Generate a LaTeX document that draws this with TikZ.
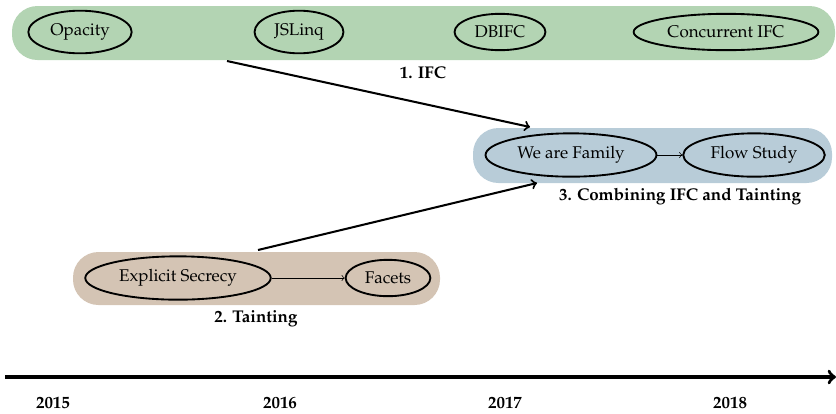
\documentclass[tikz,border=0pt]{standalone}
\usepackage[T1]{fontenc}
\usepackage{mathpazo}
\usepackage{xcolor}
\usetikzlibrary{shapes.geometric}
\definecolor{ifcgreen}{HTML}{B3D4B3}
\definecolor{mixblue}{HTML}{B8CCD8}
\definecolor{taintbrown}{HTML}{D4C4B4}

\tikzset{
	paper/.style={draw, line width=1.1pt, ellipse, inner sep=4pt},
	band/.style={rounded corners=15pt},
	group/.style={font=\bfseries},
	year/.style={font=\bfseries}
}

\begin{document}
\begin{tikzpicture}[x=0.0207cm, y=-0.0207cm]
		\useasboundingbox (0,0) rectangle (836,413);
		% groups
		\fill[ifcgreen, band] (12,6) rectangle (835,60);
		\fill[mixblue, band] (473,128) rectangle (832,183);
		\fill[taintbrown, band] (73,252) rectangle (440,305);
		% IFC
		\node[paper] (opacity) at (80,32) {Opacity};
		\node[paper] (jslinq) at (299,32) {JSLinq};
		\node[paper] (dbifc) at (500,32) {DBIFC};
		\node[paper] (concurrent) at (726,32) {Concurrent IFC};
		\node[group] (ifc) at (423,73) {1. IFC};
		% combining
		\node[paper] (family) at (571,155) {We are Family};
		\node[paper] (flow) at (754,155) {Flow Study};
		\node[group] (combining) at (680,197) {3. Combining IFC and Tainting};
		\draw[->] (family) -- (flow);
		% tainting
		\node[paper] (explicit) at (178,278) {Explicit Secrecy};
		\node[paper] (facets) at (388,278) {Facets};
		\node[group] (tainting) at (256,319) {2. Tainting};
		\draw[->] (explicit) -- (facets);
		% flows between groups
		\coordinate (A) at (227,61);
		\coordinate (B) at (530,127);
		\coordinate (C) at (258,250);
		\coordinate (D) at (537,183);
		\draw[->, line width=1.2pt] (A) -- (B);
		\draw[->, line width=1.2pt] (C) -- (D);
		% timeline
		\coordinate (T0) at (5,377);
		\coordinate (T1) at (836,377);
		\draw[->, line width=2pt] (T0) -- (T1);
		\node[year] (y2015) at (53,403) {2015};
		\node[year] (y2016) at (280,403) {2016};
		\node[year] (y2017) at (505,403) {2017};
		\node[year] (y2018) at (730,403) {2018};
	\end{tikzpicture}
\end{document}
